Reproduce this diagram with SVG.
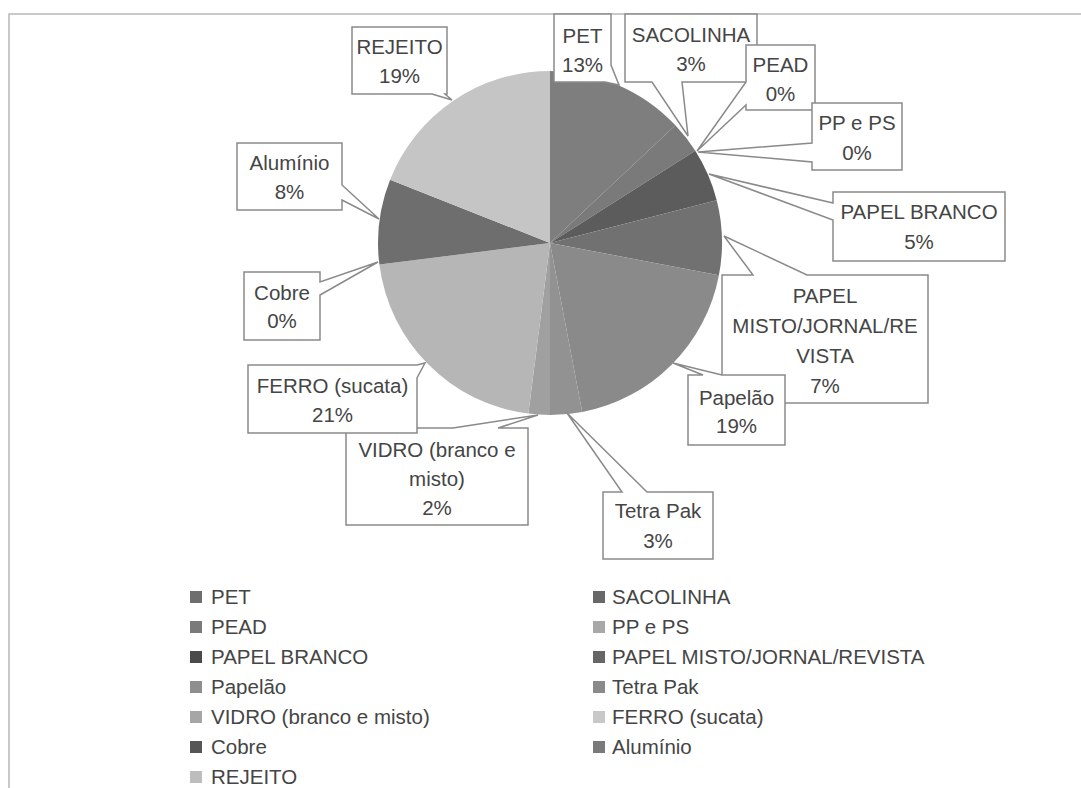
<svg xmlns="http://www.w3.org/2000/svg" width="1081" height="788" viewBox="0 0 1081 788">
<style>
text{font-family:"Liberation Sans",Arial,sans-serif;font-size:20.5px;fill:#454545}
.lbl{text-anchor:middle}
.co{fill:#fff;stroke:#8a8a8a;stroke-width:1.5;stroke-linejoin:miter}
.frame{fill:none;stroke:#b8b8b8;stroke-width:1.5}
</style>
<rect width="1081" height="788" fill="#fff"/>
<path class="frame" d="M9,788 V14 H1081"/>
<g id="pie">
<path id="s-pet" fill="#7e7e7e" d="M550,243 L550,71 A172,172 0 0 1 675.4,125.3 Z"/>
<path id="s-sacolinha" fill="#7a7a7a" d="M550,243 L675.4,125.3 A172,172 0 0 1 695.3,150.8 Z"/>
<path id="s-papelbranco" fill="#5c5c5c" d="M550,243 L695.3,150.8 A172,172 0 0 1 716.7,200.2 Z"/>
<path id="s-papelmisto" fill="#717171" d="M550,243 L716.7,200.2 A172,172 0 0 1 718.9,275.2 Z"/>
<path id="s-papelao" fill="#8a8a8a" d="M550,243 L718.9,275.2 A172,172 0 0 1 582.2,412.0 Z"/>
<path id="s-tetrapak" fill="#929292" d="M550,243 L582.2,412.0 A172,172 0 0 1 550,415 Z"/>
<path id="s-vidro" fill="#a0a0a0" d="M550,243 L550,415 A172,172 0 0 1 528.4,413.6 Z"/>
<path id="s-ferro" fill="#b6b6b6" d="M550,243 L528.4,413.6 A172,172 0 0 1 379.4,264.6 Z"/>
<path id="s-aluminio" fill="#6e6e6e" d="M550,243 L379.4,264.6 A172,172 0 0 1 390.1,179.7 Z"/>
<path id="s-rejeito" fill="#c5c5c5" d="M550,243 L390.1,179.7 A172,172 0 0 1 550,71 Z"/>
</g>
<g id="connectors"></g>
<g id="lbl-rejeito"><path class="co" d="M352,27 H447 V94 H445 L452,100 L432,94 H352 Z"/><text class="lbl" x="399.5" y="54">REJEITO</text><text class="lbl" x="399.5" y="83">19%</text></g>
<g id="lbl-pet"><path class="co" d="M554,14 H611 V65 L619,85 L605,82 H554 Z"/><text class="lbl" x="582.5" y="43">PET</text><text class="lbl" x="582.5" y="72">13%</text></g>
<g id="lbl-sacolinha"><path class="co" d="M625,14 H757 V82 H682 L688,136 L652,82 H625 Z"/><text class="lbl" x="691" y="42">SACOLINHA</text><text class="lbl" x="691" y="71">3%</text></g>
<g id="lbl-pead"><path class="co" d="M746,45 H815 V110 H746 V105 L697,151 L746,82 Z"/><text class="lbl" x="780.5" y="72">PEAD</text><text class="lbl" x="780.5" y="101">0%</text></g>
<g id="lbl-ppps"><path class="co" d="M812,103 H902 V170 H812 V162 L698,152 L812,143 Z"/><text class="lbl" x="857" y="130">PP e PS</text><text class="lbl" x="857" y="160">0%</text></g>
<g id="lbl-papelbranco"><path class="co" d="M833,192 H1005 V261 H833 V220 L709,174 L833,203 Z"/><text class="lbl" x="919" y="219">PAPEL BRANCO</text><text class="lbl" x="919" y="249">5%</text></g>
<g id="lbl-papelmisto"><path class="co" d="M722,275 H753 L724,236 L807,275 H928 V403 H722 Z"/><text class="lbl" x="825" y="303">PAPEL</text><text class="lbl" x="825" y="333">MISTO/JORNAL/RE</text><text class="lbl" x="825" y="363">VISTA</text><text class="lbl" x="825" y="393">7%</text></g>
<g id="lbl-papelao"><path class="co" d="M688,375 H703 L673,363 L722,375 H785 V445 H688 Z"/><text class="lbl" x="736.5" y="405">Papelão</text><text class="lbl" x="736.5" y="433">19%</text></g>
<g id="lbl-tetrapak"><path class="co" d="M603,492 H622 L567,413 L647,492 H713 V559 H603 Z"/><text class="lbl" x="658" y="518">Tetra Pak</text><text class="lbl" x="658" y="548">3%</text></g>
<g id="lbl-vidro"><path class="co" d="M346,428 H453 L538,415 L498,428 H528 V525 H346 Z"/><text class="lbl" x="437" y="457">VIDRO (branco e</text><text class="lbl" x="437" y="486">misto)</text><text class="lbl" x="437" y="515">2%</text></g>
<g id="lbl-ferro"><path class="co" d="M248,365 H417 L425,363 L417,378 V433 H248 Z"/><text class="lbl" x="332.5" y="393">FERRO (sucata)</text><text class="lbl" x="332.5" y="422">21%</text></g>
<g id="lbl-cobre"><path class="co" d="M244,272 H320 V282 L378,262 L320,295 V340 H244 Z"/><text class="lbl" x="282" y="300">Cobre</text><text class="lbl" x="282" y="328">0%</text></g>
<g id="lbl-aluminio"><path class="co" d="M237,143 H342 V185 L379,219 L342,200 V210 H237 Z"/><text class="lbl" x="289.5" y="170">Alumínio</text><text class="lbl" x="289.5" y="199">8%</text></g>
<g id="legend">
<rect x="190" y="591" width="12" height="12" fill="#6e6e6e"/><text x="211" y="604">PET</text>
<rect x="190" y="621" width="12" height="12" fill="#7a7a7a"/><text x="211" y="634">PEAD</text>
<rect x="190" y="651" width="12" height="12" fill="#4a4a4a"/><text x="211" y="664">PAPEL BRANCO</text>
<rect x="190" y="681" width="12" height="12" fill="#8e8e8e"/><text x="211" y="694">Papelão</text>
<rect x="190" y="711" width="12" height="12" fill="#a6a6a6"/><text x="211" y="724">VIDRO (branco e misto)</text>
<rect x="190" y="741" width="12" height="12" fill="#555555"/><text x="211" y="754">Cobre</text>
<rect x="190" y="771" width="12" height="12" fill="#bdbdbd"/><text x="211" y="784">REJEITO</text>
<rect x="593" y="591" width="12" height="12" fill="#686868"/><text x="612" y="604">SACOLINHA</text>
<rect x="593" y="621" width="12" height="12" fill="#a8a8a8"/><text x="612" y="634">PP e PS</text>
<rect x="593" y="651" width="12" height="12" fill="#666666"/><text x="612" y="664">PAPEL MISTO/JORNAL/REVISTA</text>
<rect x="593" y="681" width="12" height="12" fill="#8a8a8a"/><text x="612" y="694">Tetra Pak</text>
<rect x="593" y="711" width="12" height="12" fill="#c8c8c8"/><text x="612" y="724">FERRO (sucata)</text>
<rect x="593" y="741" width="12" height="12" fill="#7a7a7a"/><text x="612" y="754">Alumínio</text>
</g>
</svg>
